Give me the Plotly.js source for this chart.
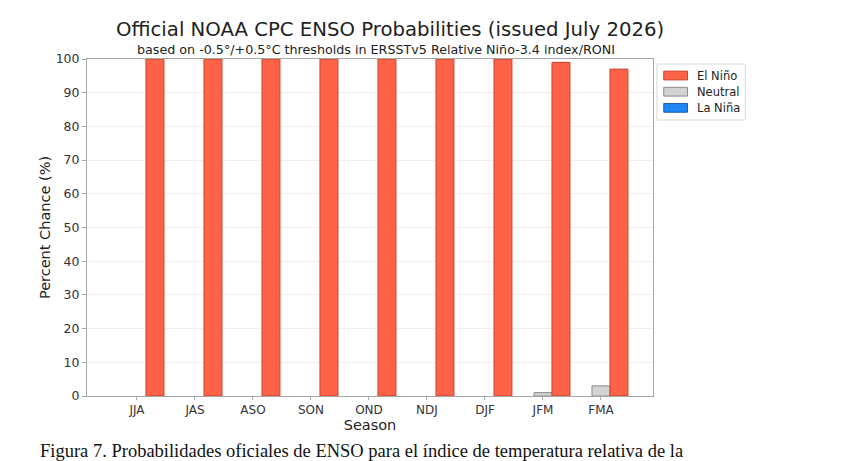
<!DOCTYPE html>
<html><head><meta charset="utf-8">
<script src="https://cdn.plot.ly/plotly-3.0.1.min.js"></script>
<style>html,body{margin:0;padding:0;background:#fff;}#chart{width:860px;height:461px;}</style>
</head><body><div id="chart"></div>
<script>
const seasons = ["JJA","JAS","ASO","SON","OND","NDJ","DJF","JFM","FMA"];
const laNina = [0,0,0,0,0,0,0,0,0];
const neutral = [0,0,0,0,0,0,0,1,3];
const elNino = [100,100,100,100,100,100,100,99,97];
const yTicks = [0,10,20,30,40,50,60,70,80,90,100];

const idx = seasons.map((s,i)=>i);
const bw = 0.31;
const F = "DejaVu Sans, sans-serif";
function bar(name, y, off, fill, edge){
  return {type:'bar', name:name, x: idx.map(i=>i+off), y:y, width:bw,
    marker:{color:fill, line:{color:edge, width:y.map(v=>v>0?1:0)}}, showlegend:false, hoverinfo:'skip'};
}
const traces = [
  bar('La Niña', laNina, -bw, '#1f87f5', '#1a5fb0'),
  bar('Neutral', neutral, 0, '#d3d3d3', '#8c8c8c'),
  bar('El Niño', elNino, bw, '#ff6347', '#c8442f')
];

const legendItems = [['El Niño','#ff6347','#c8442f'],['Neutral','#d3d3d3','#8c8c8c'],['La Niña','#1f87f5','#1a5fb0']];
const shapes = [{type:'rect', xref:'paper', yref:'paper', x0:1.007, x1:1.163, y0:0.819, y1:0.985,
  line:{color:'#d9d9d9', width:1}, fillcolor:'#fff'}];
const annotations = [
  {text:'Official NOAA CPC ENSO Probabilities (issued July 2026)', xref:'paper', yref:'paper', x:0.535, y:1.0, yshift:30, xanchor:'center', yanchor:'middle', showarrow:false, font:{family:F, size:19.7, color:'#222'}},
  {text:'based on -0.5°/+0.5°C thresholds in ERSSTv5 Relative Niño-3.4 index/RONI', xref:'paper', yref:'paper', x:0.51, y:1.0, yshift:10, xanchor:'center', yanchor:'middle', showarrow:false, font:{family:F, size:12.7, color:'#222'}},
  {text:'Figura 7. Probabilidades oficiales de ENSO para el índice de temperatura relativa de la', xref:'paper', yref:'paper', x:-0.087, y:0, yshift:-55, xanchor:'left', yanchor:'middle', showarrow:false, font:{family:'Liberation Serif, Times New Roman, serif', size:18.5, color:'#111'}}
];
legendItems.forEach((it,k)=>{
  const yc = 0.951 - k*0.048;
  shapes.push({type:'rect', xref:'paper', yref:'paper', x0:1.019, x1:1.061, y0:yc-0.013, y1:yc+0.013, fillcolor:it[1], line:{color:it[2], width:1}});
  annotations.push({text:it[0], xref:'paper', yref:'paper', x:1.074, y:yc, xanchor:'left', yanchor:'middle', showarrow:false, font:{family:F, size:11.5, color:'#222'}});
});

const layout = {
  width:860, height:461, margin:{l:87, r:207, t:59, b:65},
  paper_bgcolor:'#fff', plot_bgcolor:'#fff', barmode:'overlay', showlegend:false,
  font:{family:F, color:'#222'},
  xaxis:{range:[-0.862, 8.897], tickvals:idx, ticktext:seasons, showgrid:false, zeroline:false,
    showline:true, mirror:true, linecolor:'#a6a6a6', linewidth:1, ticks:'outside', ticklen:3, tickcolor:'#a6a6a6',
    tickfont:{family:F, size:12, color:'#333'}, title:{text:'Season', font:{family:F, size:14.5, color:'#222'}, standoff:0}},
  yaxis:{range:[0,100], tickvals:yTicks, showgrid:true, gridcolor:'#efefef', gridwidth:1, zeroline:false,
    showline:true, mirror:true, linecolor:'#a6a6a6', linewidth:1, ticks:'outside', ticklen:4, tickcolor:'#a6a6a6',
    tickfont:{family:F, size:12.5, color:'#333'}, title:{text:'Percent Chance (%)', font:{family:F, size:14.5, color:'#222'}, standoff:1}},
  shapes:shapes, annotations:annotations
};
Plotly.newPlot('chart', traces, layout, {displayModeBar:false, staticPlot:true});
</script></body></html>
